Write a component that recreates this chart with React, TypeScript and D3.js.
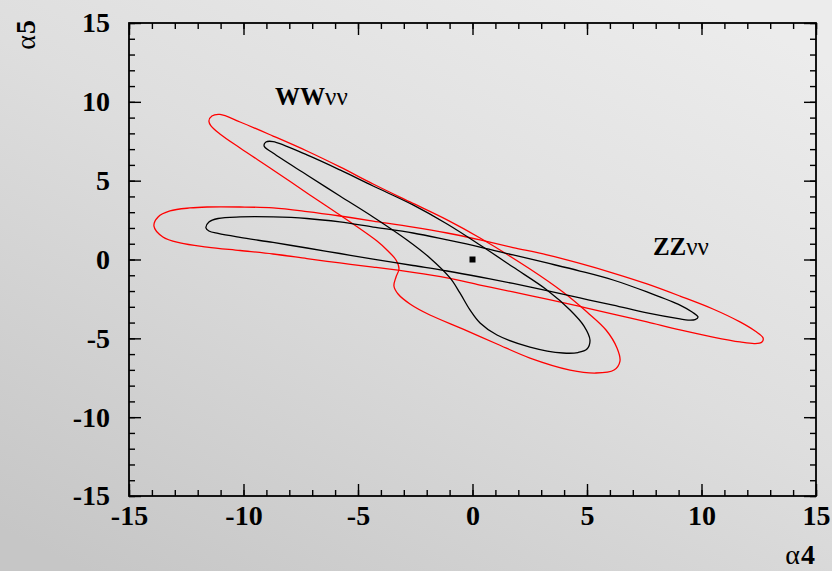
import * as React from 'react';
import * as d3 from 'd3';

// contour points, [alpha4, alpha5]
const wwOuter: [number, number][] = [
    [-11.51, 8.78], [-11.38, 9.10], [-11.03, 9.20], [-10.15, 8.72], [-8.71, 7.83],
    [-7.23, 6.88], [-5.79, 5.87], [-4.34, 4.79], [-2.73, 3.65], [-1.11, 2.51],
    [0.33, 1.36], [2.51, -0.60], [3.95, -2.06], [5.0, -3.33], [5.83, -4.47],
    [6.31, -5.61], [6.44, -6.44], [6.18, -7.01], [5.39, -7.20], [4.26, -7.01],
    [2.51, -6.25], [1.07, -5.36], [-0.41, -4.41], [-1.86, -3.52], [-2.73, -2.82],
    [-3.25, -2.19], [-3.43, -1.68], [-3.34, -1.11], [-3.21, -0.60], [-3.34, -0.03],
    [-3.69, 0.54], [-4.17, 1.17], [-5.79, 2.82], [-7.23, 4.22], [-8.71, 5.68],
    [-10.15, 7.07], [-11.03, 7.96], [-11.42, 8.47]
];

const wwInner: [number, number][] = [
    [-9.10, 7.20], [-9.02, 7.45], [-8.71, 7.48], [-7.23, 6.63], [-5.79, 5.68],
    [-4.34, 4.66], [-2.60, 3.46], [-1.11, 2.25], [0.33, 0.92], [1.77, -0.48],
    [3.25, -1.93], [4.26, -3.20], [4.87, -4.22], [5.13, -5.11], [5.0, -5.68],
    [4.61, -5.90], [3.95, -5.93], [2.51, -5.55], [1.07, -4.79], [0.33, -4.03],
    [-0.11, -3.20], [-0.55, -2.12], [-0.98, -1.17], [-1.86, 0.10], [-2.86, 1.24],
    [-4.34, 2.70], [-5.79, 4.03], [-7.23, 5.36], [-8.71, 6.75]
];

const zzOuter: [number, number][] = [
    [-13.91, 2.12], [-13.73, 2.70], [-13.21, 3.08], [-12.34, 3.27], [-11.59, 3.33],
    [-10.15, 3.33], [-8.71, 3.27], [-7.23, 3.04], [-5.79, 2.76], [-4.34, 2.44],
    [-2.60, 2.06], [-1.11, 1.68], [0.33, 1.24], [1.77, 0.76], [3.25, 0.29],
    [4.69, -0.25], [6.14, -0.86], [7.62, -1.55], [9.06, -2.32], [10.50, -3.14],
    [11.68, -3.96], [12.34, -4.54], [12.69, -4.98], [12.64, -5.23], [12.34, -5.33],
    [11.68, -5.23], [10.50, -4.92], [9.06, -4.47], [7.62, -3.96], [6.14, -3.46],
    [4.69, -2.98], [3.25, -2.51], [1.77, -2.06], [0.33, -1.62], [-1.11, -1.17],
    [-2.60, -0.82], [-4.34, -0.48], [-5.79, -0.22], [-7.23, 0.06], [-8.71, 0.35],
    [-10.15, 0.57], [-11.59, 0.79], [-12.77, 1.05], [-13.52, 1.43]
];

const zzInner: [number, number][] = [
    [-11.64, 2.00], [-11.51, 2.38], [-11.11, 2.60], [-10.15, 2.70], [-8.71, 2.70],
    [-7.23, 2.60], [-5.79, 2.38], [-4.34, 2.06], [-2.60, 1.68], [-1.11, 1.24],
    [0.33, 0.79], [1.77, 0.29], [3.25, -0.22], [4.69, -0.73], [6.14, -1.30],
    [7.62, -2.06], [9.06, -2.89], [9.59, -3.33], [9.85, -3.65], [9.72, -3.81],
    [9.41, -3.84], [9.06, -3.77], [7.62, -3.39], [6.14, -2.89], [4.69, -2.44],
    [3.25, -1.97], [1.77, -1.52], [0.33, -1.11], [-1.11, -0.73], [-2.60, -0.38],
    [-4.34, 0.03], [-5.79, 0.38], [-7.23, 0.73], [-8.71, 1.08], [-10.15, 1.40],
    [-11.11, 1.65], [-11.51, 1.81]
];

const bestFit: [number, number] = [0, 0];

const majorTicks = [-15, -10, -5, 0, 5, 10, 15];
const minorTicks = d3.range(-15, 16, 1);

const labels = [
    { main: 'WW', sub: 'νν', at: [-8.62, 9.8] },
    { main: 'ZZ', sub: 'νν', at: [7.88, 0.29] }
];

const width = 832;
const height = 571;
const margin = { top: 23, right: 16, bottom: 75, left: 129 };
const font = '"Liberation Serif", "DejaVu Serif", serif';

export default class App extends React.PureComponent {

    svg: SVGSVGElement | null = null

    componentDidMount() {
        this._draw();
    }

    _draw() {
        let w = width - margin.left - margin.right;
        let h = height - margin.top - margin.bottom;

        let svg = d3.select(this.svg);
        svg.selectAll('*').remove();

        let defs = svg.append('defs');
        let grad = defs.append('linearGradient')
            .attr('id', 'bg')
            .attr('x1', 0.85).attr('y1', 0)
            .attr('x2', 0.1).attr('y2', 1);
        grad.append('stop').attr('offset', 0).attr('stop-color', '#ececec');
        grad.append('stop').attr('offset', 0.45).attr('stop-color', '#dedede');
        grad.append('stop').attr('offset', 1).attr('stop-color', '#c6c6c6');

        svg.append('rect')
            .attr('width', width).attr('height', height)
            .attr('fill', 'url(#bg)');

        let xScale = d3.scaleLinear().domain([-15, 15]).range([0, w]);
        let yScale = d3.scaleLinear().domain([-15, 15]).range([h, 0]);

        let g = svg.append('g')
            .attr('transform', 'translate(' + margin.left + ',' + margin.top + ')');

        // minor ticks on all four sides, pointing inwards
        let minor = (axis: any) => axis.tickValues(minorTicks).tickSizeInner(-6).tickSizeOuter(0).tickFormat(() => '');
        let major = (axis: any) => axis.tickValues(majorTicks).tickSizeInner(-12).tickSizeOuter(0);

        g.append('g').attr('transform', 'translate(0,' + h + ')').call(minor(d3.axisBottom(xScale)));
        g.append('g').call(minor(d3.axisTop(xScale)));
        g.append('g').call(minor(d3.axisLeft(yScale)));
        g.append('g').attr('transform', 'translate(' + w + ',0)').call(minor(d3.axisRight(yScale)));

        let bottom = g.append('g').attr('transform', 'translate(0,' + h + ')')
            .call(major(d3.axisBottom(xScale)).tickPadding(9).tickFormat((d: any) => String(d)));
        let left = g.append('g')
            .call(major(d3.axisLeft(yScale)).tickPadding(19).tickFormat((d: any) => String(d)));
        g.append('g').call(major(d3.axisTop(xScale)).tickFormat(() => ''));
        g.append('g').attr('transform', 'translate(' + w + ',0)')
            .call(major(d3.axisRight(yScale)).tickFormat(() => ''));

        g.selectAll('.domain').remove();
        g.selectAll('.tick line').attr('stroke', '#000').attr('stroke-width', 1.4);
        [bottom, left].forEach((ax) => {
            ax.attr('font-family', font).attr('font-size', 28).attr('font-weight', 'bold');
            ax.selectAll('text').attr('fill', '#000');
        });

        g.append('rect')
            .attr('width', w).attr('height', h)
            .attr('fill', 'none')
            .attr('stroke', '#000')
            .attr('stroke-width', 1.8);

        let line = d3.line<[number, number]>()
            .x((d) => xScale(d[0]))
            .y((d) => yScale(d[1]))
            .curve(d3.curveCatmullRomClosed.alpha(0.5));

        let contours = [
            { pts: wwOuter, color: '#ff0000' },
            { pts: zzOuter, color: '#ff0000' },
            { pts: wwInner, color: '#000000' },
            { pts: zzInner, color: '#000000' }
        ];

        g.selectAll('.contour')
            .data(contours)
            .enter()
                .append('path')
                .attr('class', 'contour')
                .attr('d', (c) => line(c.pts))
                .attr('fill', 'none')
                .attr('stroke', (c) => c.color)
                .attr('stroke-width', 1.3);

        g.append('rect')
            .attr('x', xScale(bestFit[0]) - 3)
            .attr('y', yScale(bestFit[1]) - 3)
            .attr('width', 6).attr('height', 6)
            .attr('fill', '#000');

        let lab = g.selectAll('.lab')
            .data(labels)
            .enter()
                .append('text')
                .attr('class', 'lab')
                .attr('x', (d) => xScale(d.at[0]))
                .attr('y', (d) => yScale(d.at[1]))
                .attr('font-family', font)
                .attr('font-size', 25);
        lab.append('tspan').attr('font-weight', 'bold').text((d) => d.main);
        lab.append('tspan').text((d) => d.sub);

        // axis titles: greek letter plain, index bold
        let title = (x: number, y: number, rot: number, s: string, bold: boolean, anchor: string) =>
            svg.append('text')
                .attr('transform', 'translate(' + x + ',' + y + ') rotate(' + rot + ')')
                .attr('text-anchor', anchor)
                .attr('font-family', font)
                .attr('font-size', 28)
                .attr('font-weight', bold ? 'bold' : 'normal')
                .attr('fill', '#000')
                .text(s);

        title(800, 564, 0, 'α', false, 'end');
        title(801, 564, 0, '4', true, 'start');
        title(35, 35, -90, 'α', false, 'end');
        title(35, 34, -90, '5', true, 'start');
    }

    render() {
        return (
            <svg ref={(svg) => { this.svg = svg; }} width={width} height={height}
                style={{ position: 'absolute', left: 0, top: 0 }}></svg>
        );
    }
}
